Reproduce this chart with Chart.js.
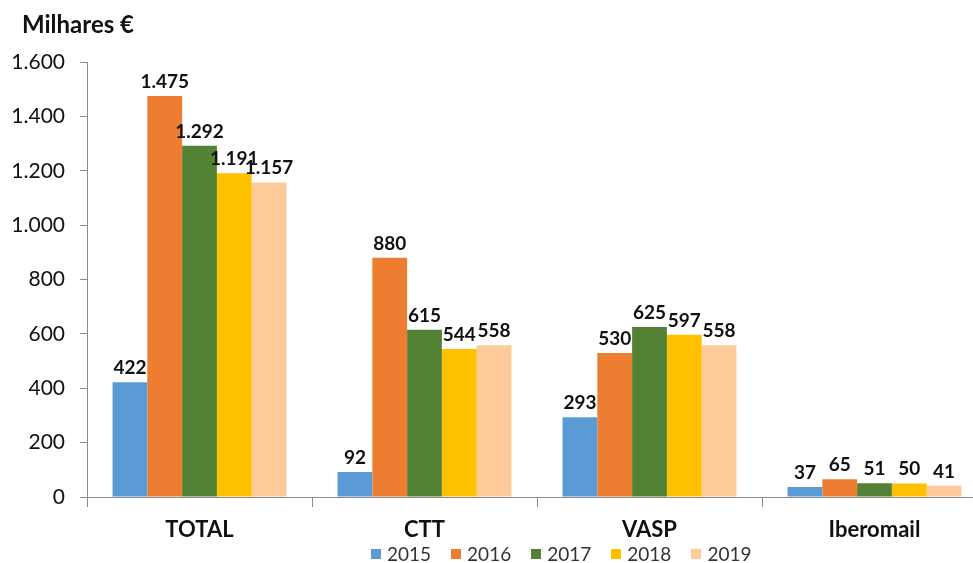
<!DOCTYPE html>
<html lang="pt">
<head>
    <meta charset="UTF-8">
    <title>Milhares €</title>
    <script src="https://cdn.jsdelivr.net/npm/chart.js"></script>
    <style>
        html, body { margin: 0; padding: 0; background: #fff; overflow: hidden; }
        #wrap { position: relative; width: 1000px; height: 563px; }
        #titulo {
            position: absolute; left: 22px; top: 9px;
            font-family: Lato, sans-serif; font-size: 24px; font-weight: bold;
            line-height: 29px; color: #111;
        }
        #legend {
            position: absolute; left: 371px; top: 542px;
            display: flex; align-items: center;
            font-family: Lato, sans-serif; font-size: 19px; color: #333;
        }
        #legend span.item { display: flex; align-items: center; margin-right: 20px; }
        #legend span.box { width: 10px; height: 10px; margin-right: 6px; display: inline-block; }
    </style>
</head>
<body>
<div id="wrap">
    <canvas id="myChart" width="1000" height="563"></canvas>
    <div id="titulo">Milhares €</div>
    <div id="legend"></div>
</div>

<script>
// dados do gráfico
const categorias = ['TOTAL', 'CTT', 'VASP', 'Iberomail'];
const anos = ['2015', '2016', '2017', '2018', '2019'];
const v2015 = [422, 92, 293, 37];
const v2016 = [1475, 880, 530, 65];
const v2017 = [1292, 615, 625, 51];
const v2018 = [1191, 544, 597, 50];
const v2019 = [1157, 558, 558, 41];
const cores = ['#5B9BD5', '#ED7D31', '#548235', '#FFC000', '#FFCA99'];

const series = [v2015, v2016, v2017, v2018, v2019];

function fmt(n) {
    return String(n).replace(/\B(?=(\d{3})+(?!\d))/g, '.');
}

// etiquetas por cima das barras
const rotulos = {
    id: 'rotulos',
    afterDatasetsDraw(chart) {
        const ctx = chart.ctx;
        ctx.save();
        ctx.font = 'bold 19px Lato, sans-serif';
        ctx.fillStyle = '#111';
        ctx.textAlign = 'center';
        ctx.textBaseline = 'alphabetic';
        chart.data.datasets.forEach((ds, i) => {
            chart.getDatasetMeta(i).data.forEach((bar, j) => {
                ctx.fillText(fmt(ds.data[j]), bar.x, bar.y - 8);
            });
        });
        ctx.restore();
    }
};

const ctx = document.getElementById('myChart').getContext('2d');
new Chart(ctx, {
    type: 'bar',
    data: {
        labels: categorias,
        datasets: anos.map((a, i) => ({
            label: a,
            data: series[i],
            backgroundColor: cores[i],
            borderWidth: 0,
            categoryPercentage: 0.773,
            barPercentage: 1
        }))
    },
    options: {
        responsive: false,
        animation: false,
        layout: { padding: { left: 12, right: 13, top: 62, bottom: 0 } },
        plugins: {
            legend: { display: false },
            tooltip: { enabled: false }
        },
        scales: {
            x: {
                grid: { display: true, offset: true, drawOnChartArea: false, tickLength: 10, color: '#8a8a8a' },
                border: { display: true, color: '#8a8a8a' },
                ticks: { color: '#111', padding: 10, font: { family: 'Lato, sans-serif', size: 22, weight: 'bold' } },
                afterFit(scale) { scale.height = 66; }
            },
            y: {
                min: 0,
                max: 1600,
                grid: { display: true, drawOnChartArea: false, tickLength: 7, color: '#8a8a8a' },
                border: { display: true, color: '#8a8a8a' },
                ticks: {
                    stepSize: 200,
                    padding: 15,
                    color: '#111',
                    font: { family: 'Lato, sans-serif', size: 21 },
                    callback: v => fmt(v)
                },
                afterFit(scale) { scale.width = 75; }
            }
        }
    },
    plugins: [rotulos]
});

// legenda
const legend = document.getElementById('legend');
anos.forEach((a, i) => {
    const item = document.createElement('span');
    item.className = 'item';
    const box = document.createElement('span');
    box.className = 'box';
    box.style.background = cores[i];
    item.appendChild(box);
    item.appendChild(document.createTextNode(a));
    legend.appendChild(item);
});
</script>
</body>
</html>
